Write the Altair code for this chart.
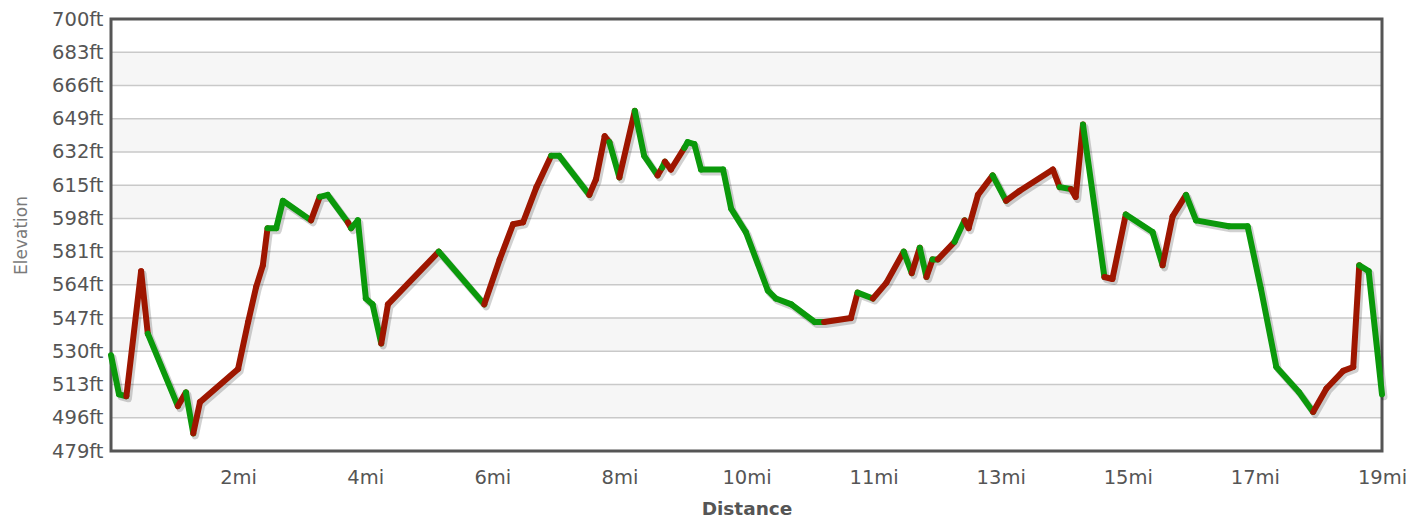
import altair as alt
import pandas as pd

# ---- data ----
dist = [0.00, 0.12, 0.23, 0.45, 0.55, 1.00, 1.12, 1.23, 1.33, 1.90, 2.05, 2.17, 2.27, 2.34,
        2.47, 2.57, 2.99, 3.12, 3.24, 3.54, 3.59, 3.69, 3.81, 3.91, 4.04, 4.14, 4.90, 5.58,
        5.81, 6.01, 6.16, 6.36, 6.58, 6.70, 7.15, 7.25, 7.38, 7.45, 7.60, 7.83, 7.97, 8.17,
        8.24, 8.28, 8.37, 8.57, 8.62, 8.72, 8.82, 9.15, 9.27, 9.49, 9.82, 9.94, 10.17, 10.52,
        10.66, 11.06, 11.16, 11.39, 11.59, 11.85, 11.97, 12.09, 12.19, 12.28, 12.36, 12.61,
        12.76, 12.82, 12.96, 13.18, 13.38, 13.58, 14.08, 14.18, 14.35, 14.42, 14.53, 14.85,
        14.97, 15.17, 15.57, 15.72, 15.87, 16.07, 16.22, 16.71, 16.99, 17.19, 17.42, 17.76,
        17.97, 18.17, 18.42, 18.57, 18.66, 18.80, 19.00]
elev = [528, 508, 507, 571, 539, 502, 509, 488, 504, 521, 545, 563, 574, 593,
        593, 607, 597, 609, 610, 596, 593, 597, 557, 554, 534, 554, 581, 554,
        577, 595, 596, 614, 630, 630, 610, 618, 640, 637, 619, 653, 630, 620,
        624, 627, 623, 634, 637, 636, 623, 623, 603, 591, 561, 557, 554, 545,
        545, 547, 560, 557, 565, 581, 570, 583, 568, 577, 577, 586,
        597, 593, 610, 620, 607, 612, 623, 614, 613, 609, 646, 568,
        567, 600, 591, 574, 599, 610, 597, 594, 594, 562, 522, 509,
        499, 511, 520, 522, 574, 571, 508]
# colour of each segment (from point i to point i+1): R = red, G = green
seg_dir = ["G", "G", "R", "R", "G", "R", "G", "R", "R", "R", "R", "R", "R",
           "G", "G", "G", "R", "G", "G", "R", "G", "G", "G", "G", "R", "R", "G",
           "R", "R", "R", "R", "R", "G", "G", "R", "R", "R", "G", "R", "G", "G",
           "R", "G", "R", "R", "G", "G", "G", "G", "G", "G", "G", "G", "G", "G",
           "G", "R", "R", "G", "R", "R", "G", "R", "G", "R", "G", "R",
           "G", "R", "R", "R", "G", "R", "R", "R", "G", "R", "R", "G",
           "R", "R", "G", "G", "R", "R", "G", "G", "G", "G", "G", "G",
           "G", "R", "R", "R", "R", "G", "G"]
y_ticks = [479, 496, 513, 530, 547, 564, 581, 598, 615, 632, 649, 666, 683, 700]
x_ticks = [1.9, 3.8, 5.7, 7.6, 9.5, 11.4, 13.3, 15.2, 17.1, 19.0]
band_lo = [496, 530, 564, 598, 632, 666]

W, H = 1271, 432
FONT = "DejaVu Sans"

segs = pd.DataFrame({"d0": dist[:-1], "d1": dist[1:], "e0": elev[:-1],
                     "e1": elev[1:], "dir": seg_dir})
pts = pd.DataFrame({"d": dist, "e": elev})
bands = pd.DataFrame({"lo": band_lo, "hi": [v + 17 for v in band_lo]})
grid = pd.DataFrame({"g": y_ticks[1:-1]})
one = pd.DataFrame({"a": [0]})

xs = alt.Scale(domain=[0, 19], nice=False, zero=False)
ys = alt.Scale(domain=[479, 700], nice=False, zero=False)

xaxis = alt.Axis(values=x_ticks, labelExpr="round(datum.value) + 'mi'", grid=False,
                 ticks=False, tickSize=0, domain=False, labelPadding=17,
                 labelFlush=False, labelOverlap=False, labelFont=FONT, labelFontSize=19.5,
                 labelColor="#555555", title="Distance", titleFont=FONT,
                 titleFontSize=18.5, titleFontWeight="bold", titleColor="#555555",
                 titleX=W / 2, titleY=57, titleBaseline="middle", titleAlign="center")
yaxis = alt.Axis(values=y_ticks, labelExpr="datum.value + 'ft'", grid=False,
                 ticks=False, tickSize=0, domain=False, labelPadding=8,
                 labelFlush=False, labelOverlap=False, labelFont=FONT, labelFontSize=19.5,
                 labelColor="#555555", title="Elevation", titleFont=FONT,
                 titleFontSize=17, titleFontWeight="normal", titleColor="#7a7a7a",
                 titleX=-90, titleY=H / 2, titleBaseline="middle", titleAlign="center",
                 titleAngle=270)

band_layer = alt.Chart(bands).mark_rect(color="#f6f6f6").encode(
    x=alt.value(0), x2=alt.value(W),
    y=alt.Y("lo:Q", scale=ys, axis=yaxis), y2="hi:Q")

grid_layer = alt.Chart(grid).mark_rule(color="#c9c9c9", strokeWidth=1.5).encode(
    x=alt.value(0), x2=alt.value(W),
    y=alt.Y("g:Q", scale=ys, axis=yaxis))

border_layer = alt.Chart(one).mark_rect(fillOpacity=0, stroke="#555555",
                                        strokeWidth=3).encode(
    x=alt.value(0), x2=alt.value(W), y=alt.value(0), y2=alt.value(H))

shadow_layer = alt.Chart(pts).mark_line(color="#000000", opacity=0.18, strokeWidth=7,
                                        xOffset=2, yOffset=2.5, strokeJoin="round",
                                        strokeCap="round").encode(
    x=alt.X("d:Q", scale=xs, axis=xaxis),
    y=alt.Y("e:Q", scale=ys, axis=yaxis))

line_layer = alt.Chart(segs).mark_rule(strokeWidth=6, strokeCap="round").encode(
    x=alt.X("d0:Q", scale=xs, axis=xaxis), x2="d1:Q",
    y=alt.Y("e0:Q", scale=ys, axis=yaxis), y2="e1:Q",
    color=alt.Color("dir:N", scale=alt.Scale(domain=["R", "G"],
                                             range=["#9e1600", "#0b990b"]),
                    legend=None))

chart = alt.layer(band_layer, grid_layer, border_layer, shadow_layer, line_layer).properties(
    width=W, height=H,
    padding={"left": 103, "top": 11, "right": 28, "bottom": 68},
    autosize=alt.AutoSizeParams(type="none"),
    background="#ffffff",
).configure_view(strokeWidth=0)

chart.save("out.html", embed_options={"renderer": "svg", "actions": False})
